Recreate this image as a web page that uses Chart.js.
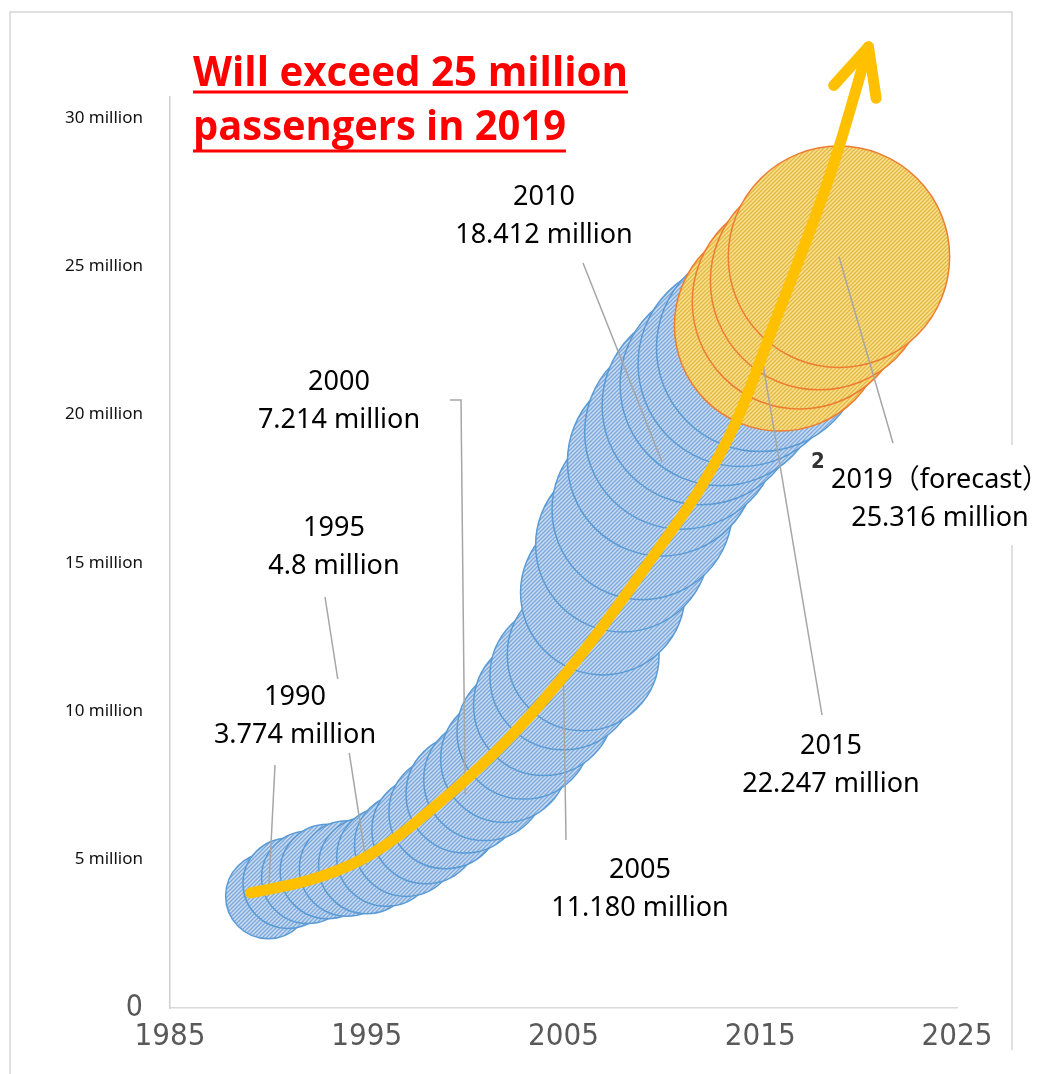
<!DOCTYPE html>
<html lang="en">
<head>
<meta charset="UTF-8">
<title>Passengers 1990-2019</title>
<script src="https://cdn.jsdelivr.net/npm/chart.js@4"></script>
<style>
* { margin: 0; padding: 0; }
body { background: #fff; }
#chart { display: block; }
</style>
</head>
<body>
<canvas id="chart" width="1043" height="1074"></canvas>
<script>
// passengers per year, millions (2016-2019 is the forecast part)
const years = [1990, 1991, 1992, 1993, 1994, 1995, 1996, 1997, 1998, 1999,
               2000, 2001, 2002, 2003, 2004, 2005, 2006, 2007, 2008, 2009,
               2010, 2011, 2012, 2013, 2014, 2015, 2016, 2017, 2018, 2019];
const passengers = [3.774, 4.2, 4.4, 4.6, 4.7, 4.8, 5.1, 5.5, 6.0, 6.6,
                    7.214, 7.7, 8.4, 9.3, 10.2, 11.18, 11.9, 14.0, 15.6, 16.8,
                    18.412, 19.4, 20.3, 21.0, 21.7, 22.247, 23.0, 23.8, 24.5, 25.316];
const forecastFrom = 2016;

const xTicks = [1985, 1995, 2005, 2015, 2025];
const yTicks = [0, 5, 10, 15, 20, 25, 30];

// the trend arrow laid over the bubbles (year, millions)
const arrowYears = [1989.1, 1992.1, 1994.7, 1997.2, 2001.8, 2005.8, 2009.9, 2011.9, 2013.7, 2015.5, 2018.5, 2020.5];
const arrowValues = [3.88, 4.31, 4.99, 6.10, 8.80, 11.83, 15.54, 17.46, 19.65, 22.69, 27.98, 32.39];

// data labels: text, where the text sits, and where the leader line starts
const notes = [
    { year: 1990, text: ['1990', '3.774 million'], at: [295, 697], from: [[275, 765]] },
    { year: 1995, text: ['1995', '4.8 million'], at: [334, 528], from: [[325, 597]] },
    { year: 2000, text: ['2000', '7.214 million'], at: [339, 382], from: [[450, 400], [461, 400]] },
    { year: 2005, text: ['2005', '11.180 million'], at: [640, 870], from: [[566, 840]] },
    { year: 2010, text: ['2010', '18.412 million'], at: [544, 197], from: [[583, 263]] },
    { year: 2015, text: ['2015', '22.247 million'], at: [831, 746], from: [[822, 715]] },
    { year: 2019, text: ['2019（forecast）', '25.316 million'], at: [940, 480], from: [[893, 443]], box: [835, 445, 208, 100] }
];

const canvas = document.getElementById('chart');
const ctx = canvas.getContext('2d');

function hatch(bg, fg) {
    const c = document.createElement('canvas');
    c.width = 4; c.height = 4;
    const g = c.getContext('2d');
    g.fillStyle = bg;
    g.fillRect(0, 0, 4, 4);
    g.strokeStyle = fg;
    g.lineWidth = 1.3;
    g.beginPath();
    g.moveTo(-1, 5); g.lineTo(5, -1);
    g.moveTo(-1, 1); g.lineTo(1, -1);
    g.moveTo(3, 5); g.lineTo(5, 3);
    g.stroke();
    return ctx.createPattern(c, 'repeat');
}

const bubbleR = v => 22 * Math.sqrt(v);
const actual = [], forecast = [];
years.forEach((y, i) => {
    const p = { x: y, y: passengers[i], r: bubbleR(passengers[i]) };
    (y >= forecastFrom ? forecast : actual).push(p);
});

const narrow = '"Liberation Sans Narrow", "DejaVu Sans Condensed", sans-serif';
const textFont = '"Noto Sans", "Noto Sans CJK JP", sans-serif';

function findPoint(chart, year) {
    for (const idx of [1, 2]) {
        const ds = chart.data.datasets[idx];
        const i = ds.data.findIndex(p => p.x === year);
        if (i >= 0) return chart.getDatasetMeta(idx).data[i];
    }
    return null;
}

const overlay = {
    id: 'overlay',
    beforeDatasetDraw(chart, args) {
        if (args.index !== 0) return;
        // leader lines go over the bubbles but under the arrow
        const c = chart.ctx;
        c.save();
        c.strokeStyle = '#A6A6A6';
        c.lineWidth = 1.5;
        notes.forEach(n => {
            const end = findPoint(chart, n.year);
            c.beginPath();
            c.moveTo(n.from[0][0], n.from[0][1]);
            n.from.slice(1).forEach(p => c.lineTo(p[0], p[1]));
            c.lineTo(end.x, end.y);
            c.stroke();
        });
        c.restore();
    },
    afterDatasetsDraw(chart) {
        const c = chart.ctx;
        // arrow head
        const pts = chart.getDatasetMeta(0).data;
        const tip = pts[pts.length - 1], prev = pts[pts.length - 2];
        const back = Math.atan2(prev.y - tip.y, prev.x - tip.x);
        c.save();
        c.strokeStyle = '#FFC000';
        c.lineWidth = 11;
        c.lineCap = 'round';
        c.lineJoin = 'round';
        c.beginPath();
        c.moveTo(tip.x + 52 * Math.cos(back - 0.44), tip.y + 52 * Math.sin(back - 0.44));
        c.lineTo(tip.x, tip.y);
        c.lineTo(tip.x + 52 * Math.cos(back + 0.44), tip.y + 52 * Math.sin(back + 0.44));
        c.stroke();
        c.restore();

        // picture frame
        c.save();
        c.strokeStyle = '#D6D6D6';
        c.lineWidth = 1.5;
        c.beginPath();
        c.moveTo(10, 1074); c.lineTo(10, 12); c.lineTo(1012, 12); c.lineTo(1012, 1050);
        c.stroke();
        c.restore();

        // data labels
        c.save();
        c.textAlign = 'center';
        c.textBaseline = 'middle';
        c.font = '27px ' + textFont;
        notes.forEach(n => {
            if (n.box) {
                c.fillStyle = '#fff';
                c.fillRect(n.box[0], n.box[1], n.box[2], n.box[3]);
            } else {
                const w = Math.max(...n.text.map(t => c.measureText(t).width));
                c.fillStyle = '#fff';
                c.fillRect(n.at[0] - w / 2 - 4, n.at[1] - 18, w + 8, 74);
            }
            c.fillStyle = '#000';
            n.text.forEach((t, k) => c.fillText(t, n.at[0], n.at[1] + 38 * k));
        });
        c.font = 'bold 22px ' + narrow;
        c.fillStyle = '#333';
        c.fillText('2', 818, 462);
        c.restore();

        // headline
        c.save();
        c.fillStyle = '#FF0000';
        c.strokeStyle = '#FF0000';
        c.font = 'bold 42px "Open Sans", sans-serif';
        c.textBaseline = 'alphabetic';
        [['Will exceed 25 million', 86, 435, 92], ['passengers in 2019', 140, 373, 151]].forEach(([t, base, w, ul]) => {
            const m = c.measureText(t).width;
            c.save();
            c.translate(193, base);
            c.scale(w / m, 1);
            c.fillText(t, 0, 0);
            c.restore();
            c.lineWidth = 3;
            c.beginPath();
            c.moveTo(193, ul);
            c.lineTo(193 + w, ul);
            c.stroke();
        });
        c.restore();
    }
};

new Chart(ctx, {
    type: 'bubble',
    data: {
        datasets: [
            {
                type: 'line',
                label: 'trend',
                data: arrowYears.map((x, i) => ({ x: x, y: arrowValues[i] })),
                borderColor: '#FFC000',
                borderWidth: 11,
                borderCapStyle: 'round',
                borderJoinStyle: 'round',
                tension: 0.35,
                pointRadius: 0,
                fill: false,
                clip: false,
                order: 0
            },
            {
                label: 'forecast',
                data: forecast,
                backgroundColor: hatch('#F9E08E', '#E2B843'),
                borderColor: '#ED7D31',
                borderWidth: 1.5,
                order: 1
            },
            {
                label: 'actual',
                data: actual,
                backgroundColor: hatch('#C9DCF2', '#7BA7DA'),
                borderColor: '#5B9BD5',
                borderWidth: 1.5,
                order: 2
            }
        ]
    },
    options: {
        responsive: false,
        animation: false,
        events: [],
        layout: { autoPadding: false, padding: { top: 97, right: 86, left: 0, bottom: 0 } },
        plugins: { legend: { display: false }, tooltip: { enabled: false } },
        scales: {
            x: {
                type: 'linear',
                min: 1985,
                max: 2025,
                afterBuildTicks: s => { s.ticks = xTicks.map(v => ({ value: v })); },
                afterFit: s => { s.height = 66; },
                grid: { display: false, drawTicks: false },
                border: { display: true, color: '#D9D9D9', width: 1.5 },
                ticks: {
                    padding: 10,
                    color: '#595959',
                    font: { family: narrow, size: 31 },
                    maxRotation: 0,
                    callback: v => String(v)
                }
            },
            y: {
                min: 0,
                max: 30.7,
                afterBuildTicks: s => { s.ticks = yTicks.map(v => ({ value: v })); },
                afterFit: s => { s.width = 170; },
                grid: { display: false, drawTicks: false },
                border: { display: true, color: '#D0D0D0', width: 1.5 },
                ticks: {
                    padding: 27,
                    color: c => c.tick && c.tick.value === 0 ? '#595959' : '#111',
                    font: c => c.tick && c.tick.value === 0
                        ? { family: narrow, size: 30 }
                        : { family: textFont, size: 17 },
                    callback: v => v === 0 ? '0' : v + ' million'
                }
            }
        }
    },
    plugins: [overlay]
});
</script>
</body>
</html>
